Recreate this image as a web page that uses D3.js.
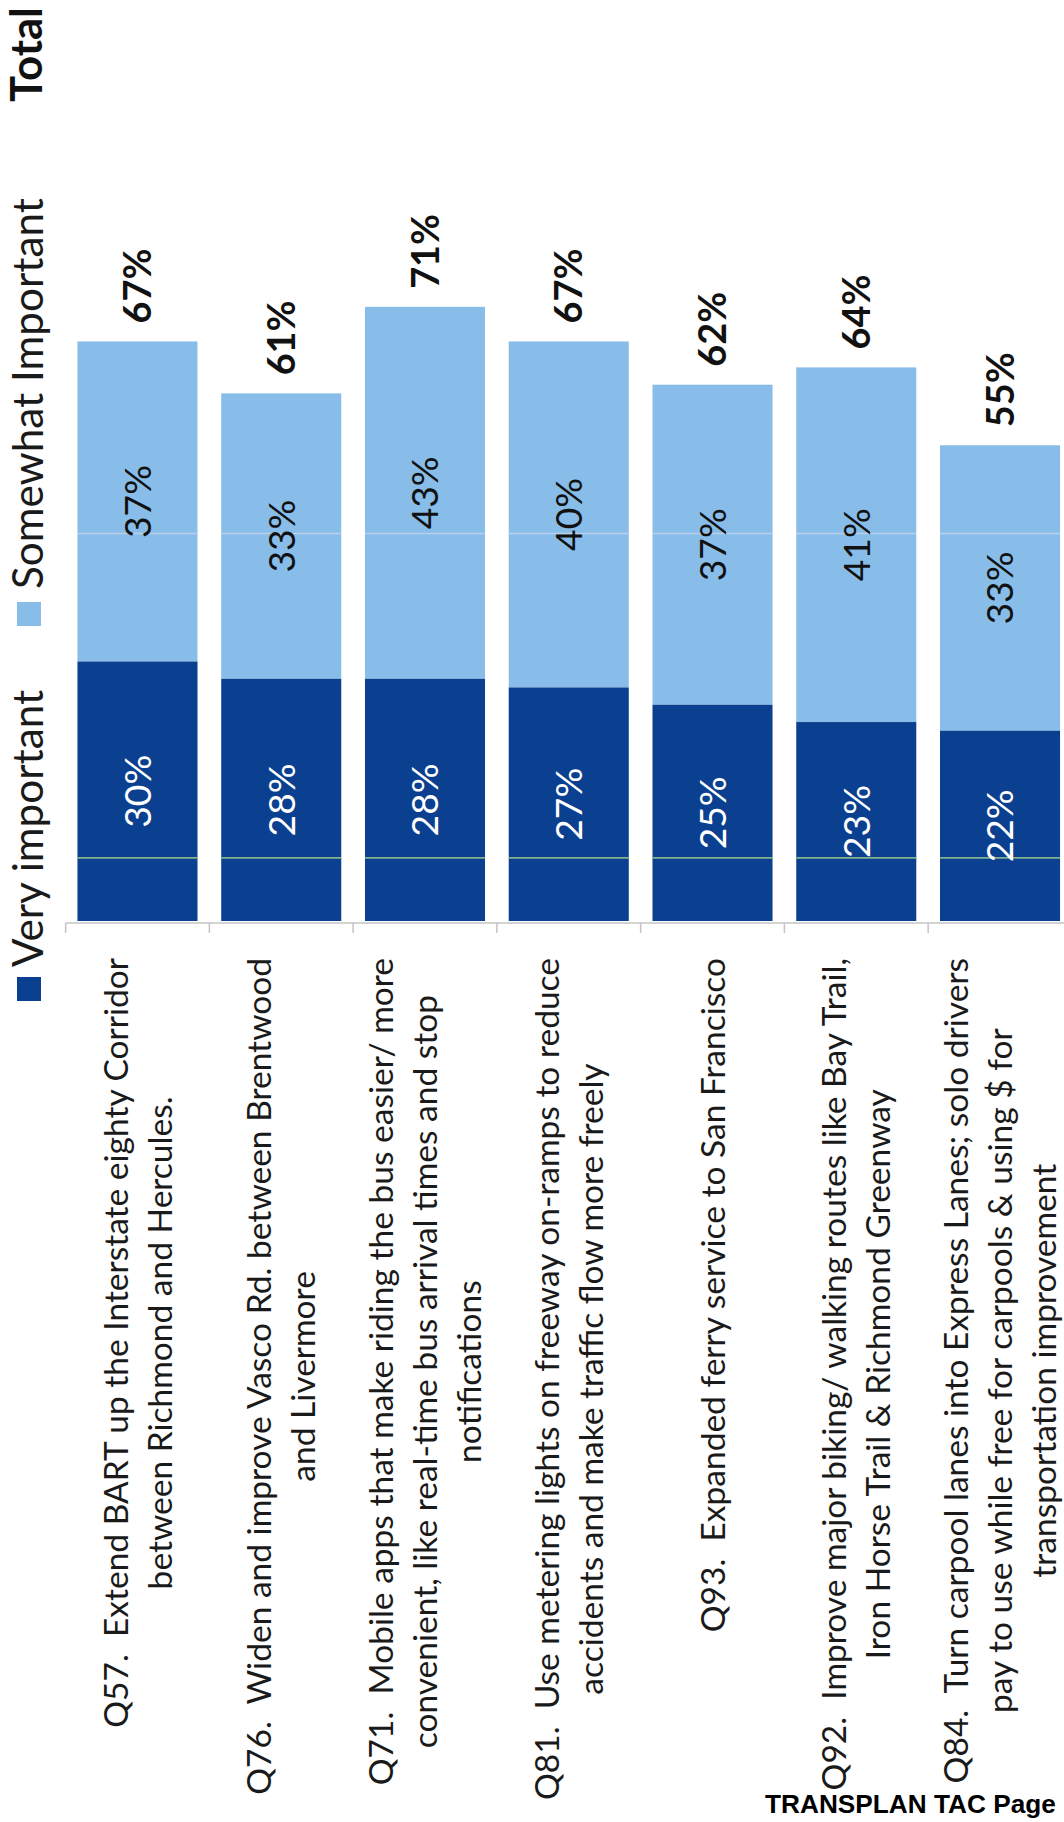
<!DOCTYPE html>
<html><head><meta charset="utf-8">
<script src="https://cdn.jsdelivr.net/npm/d3@7"></script>
<style>html,body{margin:0;padding:0;background:#fff;overflow:hidden}</style>
</head><body>
<svg id="c" width="1064" height="1822"></svg>
<script>
// ---------------- data ----------------
const questions = ["Q57","Q76","Q71","Q81","Q93","Q92","Q84"];
const labelLines = [
  ["Q57.  Extend BART up the Interstate eighty Corridor", "between Richmond and Hercules."],
  ["Q76.  Widen and improve Vasco Rd. between Brentwood", "and Livermore"],
  ["Q71.  Mobile apps that make riding the bus easier/ more", "convenient, like real-time bus arrival times and stop", "notifications"],
  ["Q81.  Use metering lights on freeway on-ramps to reduce", "accidents and make traffic flow more freely"],
  ["Q93.  Expanded ferry service to San Francisco"],
  ["Q92.  Improve major biking/ walking routes like Bay Trail,", "Iron Horse Trail & Richmond Greenway"],
  ["Q84.  Turn carpool lanes into Express Lanes; solo drivers", "pay to use while free for carpools & using $ for", "transportation improvement"]
];
const veryImportant = [30, 28, 28, 27, 25, 23, 22];
const somewhatImportant = [37, 33, 43, 40, 37, 41, 33];
const totals = [67, 61, 71, 67, 62, 64, 55];
const seriesNames = ["Very important", "Somewhat Important"];
const totalHeader = "Total";
const footerText = "TRANSPLAN TAC Page";
const scanLineValues = [7.3, 44.8];

// ---------------- style ----------------
const DARK = "#0b3f90", LIGHT = "#88bde9";
const FONT = "Lato, 'Open Sans', sans-serif";
const W = 1064, H = 1822;
const svg = d3.select("#c");

function fitSize(text, weight, target, family) {
  const t = svg.append("text").attr("font-family", family || FONT).attr("font-weight", weight)
    .attr("font-size", 40).style("white-space", "pre").text(text);
  const w = t.node().getComputedTextLength(); t.remove();
  return 40 * target / w;
}
function rtext(g, x, y, txt) {
  return g.append("text").attr("transform", `translate(${x},${y}) rotate(-90)`)
    .style("white-space", "pre").text(txt);
}

function draw() {
  const catSize = fitSize(labelLines[0][0], 400, 770);
  const legSize = fitSize(seriesNames[1], 400, 391);
  const segSize = fitSize("30%", 400, 73);
  const totSize = fitSize("64%", 700, 75);
  const hdrSize = fitSize(totalHeader, 700, 95);

  const x = d3.scaleBand().domain(questions).range([65.6, 1071.9]).paddingInner(0.165).paddingOuter(0.0825);
  const y = d3.scaleLinear().domain([0, 100]).range([921, 56]);
  const bw = x.bandwidth(), step = x.step();
  const bandStart = q => x(q) - step * x.paddingInner() / 2;

  const data = questions.map((q, i) => ({q, v: veryImportant[i], s: somewhatImportant[i], t: totals[i], lines: labelLines[i]}));

  // bars
  const g = svg.append("g");
  g.selectAll("rect.s").data(data).join("rect").attr("class", "s")
    .attr("x", d => x(d.q)).attr("width", bw)
    .attr("y", d => y(d.v + d.s)).attr("height", d => y(d.v) - y(d.v + d.s)).attr("fill", LIGHT);
  g.selectAll("rect.v").data(data).join("rect").attr("class", "v")
    .attr("x", d => x(d.q)).attr("width", bw)
    .attr("y", d => y(d.v)).attr("height", d => y(0) - y(d.v)).attr("fill", DARK);

  // faint scan lines visible across the bars
  data.forEach(d => {
    scanLineValues.forEach((sv, k) => {
      if (sv < d.v + d.s) g.append("line").attr("x1", x(d.q)).attr("x2", x(d.q) + bw)
        .attr("y1", y(sv)).attr("y2", y(sv))
        .attr("stroke", k === 0 ? "#8fbf8c" : "#dcdde9").attr("stroke-width", 1.6).attr("opacity", k === 0 ? 0.9 : 0.6);
    });
  });

  // axis (category boundaries)
  const ax = svg.append("g").attr("stroke", "#c4c4c4").attr("stroke-width", 1.5);
  const axY = y(0) + 2;
  ax.append("line").attr("x1", bandStart(questions[0])).attr("x2", W).attr("y1", axY).attr("y2", axY);
  questions.forEach(q => ax.append("line").attr("x1", bandStart(q)).attr("x2", bandStart(q)).attr("y1", axY).attr("y2", axY + 10));

  // segment labels
  const lg = svg.append("g").attr("font-family", FONT).attr("text-anchor", "middle");
  data.forEach(d => {
    const cx = x(d.q) + bw / 2;
    rtext(lg, cx, (y(0) + y(d.v)) / 2, d.v + "%").attr("dy", "0.36em").attr("font-size", segSize).attr("fill", "#fff");
    rtext(lg, cx, (y(d.v) + y(d.v + d.s)) / 2, d.s + "%").attr("dy", "0.36em").attr("font-size", segSize).attr("fill", "#111");
    rtext(lg, cx, y(d.t) - 18, d.t + "%").attr("dy", "0.36em").attr("text-anchor", "start")
      .attr("font-size", totSize).attr("font-weight", 700).attr("fill", "#111");
  });

  // category labels
  const cg = svg.append("g").attr("font-family", FONT).attr("font-size", catSize).attr("fill", "#1a1a1a").attr("text-anchor", "middle");
  const lineGap = 44, rightEdge = 958;
  data.forEach(d => {
    const cx = x(d.q) + bw / 2;
    const tmp = d.lines.map(l => {
      const t = cg.append("text").style("white-space", "pre").text(l);
      const w = t.node().getComputedTextLength(); t.remove(); return w;
    });
    const maxW = d3.max(tmp);
    const n = d.lines.length;
    d.lines.forEach((l, i) => {
      rtext(cg, cx + (i - (n - 1) / 2) * lineGap, rightEdge + maxW / 2, l).attr("dy", "0.36em");
    });
  });

  // legend
  const leg = svg.append("g").attr("font-family", FONT).attr("font-size", legSize).attr("fill", "#1a1a1a");
  const legItems = [{name: seriesNames[0], color: DARK, start: 967, sq: 977},
                    {name: seriesNames[1], color: LIGHT, start: 589, sq: 602}];
  legItems.forEach(it => {
    leg.append("rect").attr("x", 17).attr("y", it.sq).attr("width", 24).attr("height", 24).attr("fill", it.color);
    rtext(leg, 43, it.start, it.name);
  });
  rtext(leg, 42, 102, totalHeader).attr("font-size", hdrSize).attr("font-weight", 700).attr("fill", "#111");

  // footer
  const fSize = 26;
  const ft = svg.append("text").attr("font-family", "'Liberation Sans', Arial, sans-serif").attr("font-weight", 700)
    .attr("font-size", fSize).attr("fill", "#000").text("TRANSPLAN TAC");
  const fw = ft.node().getComputedTextLength(); ft.remove();
  const sx = 221 / fw;
  svg.append("text").attr("transform", `translate(765,1813) scale(${sx},1)`)
    .attr("font-family", "'Liberation Sans', Arial, sans-serif").attr("font-weight", 700)
    .attr("font-size", fSize).attr("fill", "#000").text(footerText);
}
if (document.fonts && document.fonts.ready) document.fonts.ready.then(draw); else draw();
</script>
</body></html>
